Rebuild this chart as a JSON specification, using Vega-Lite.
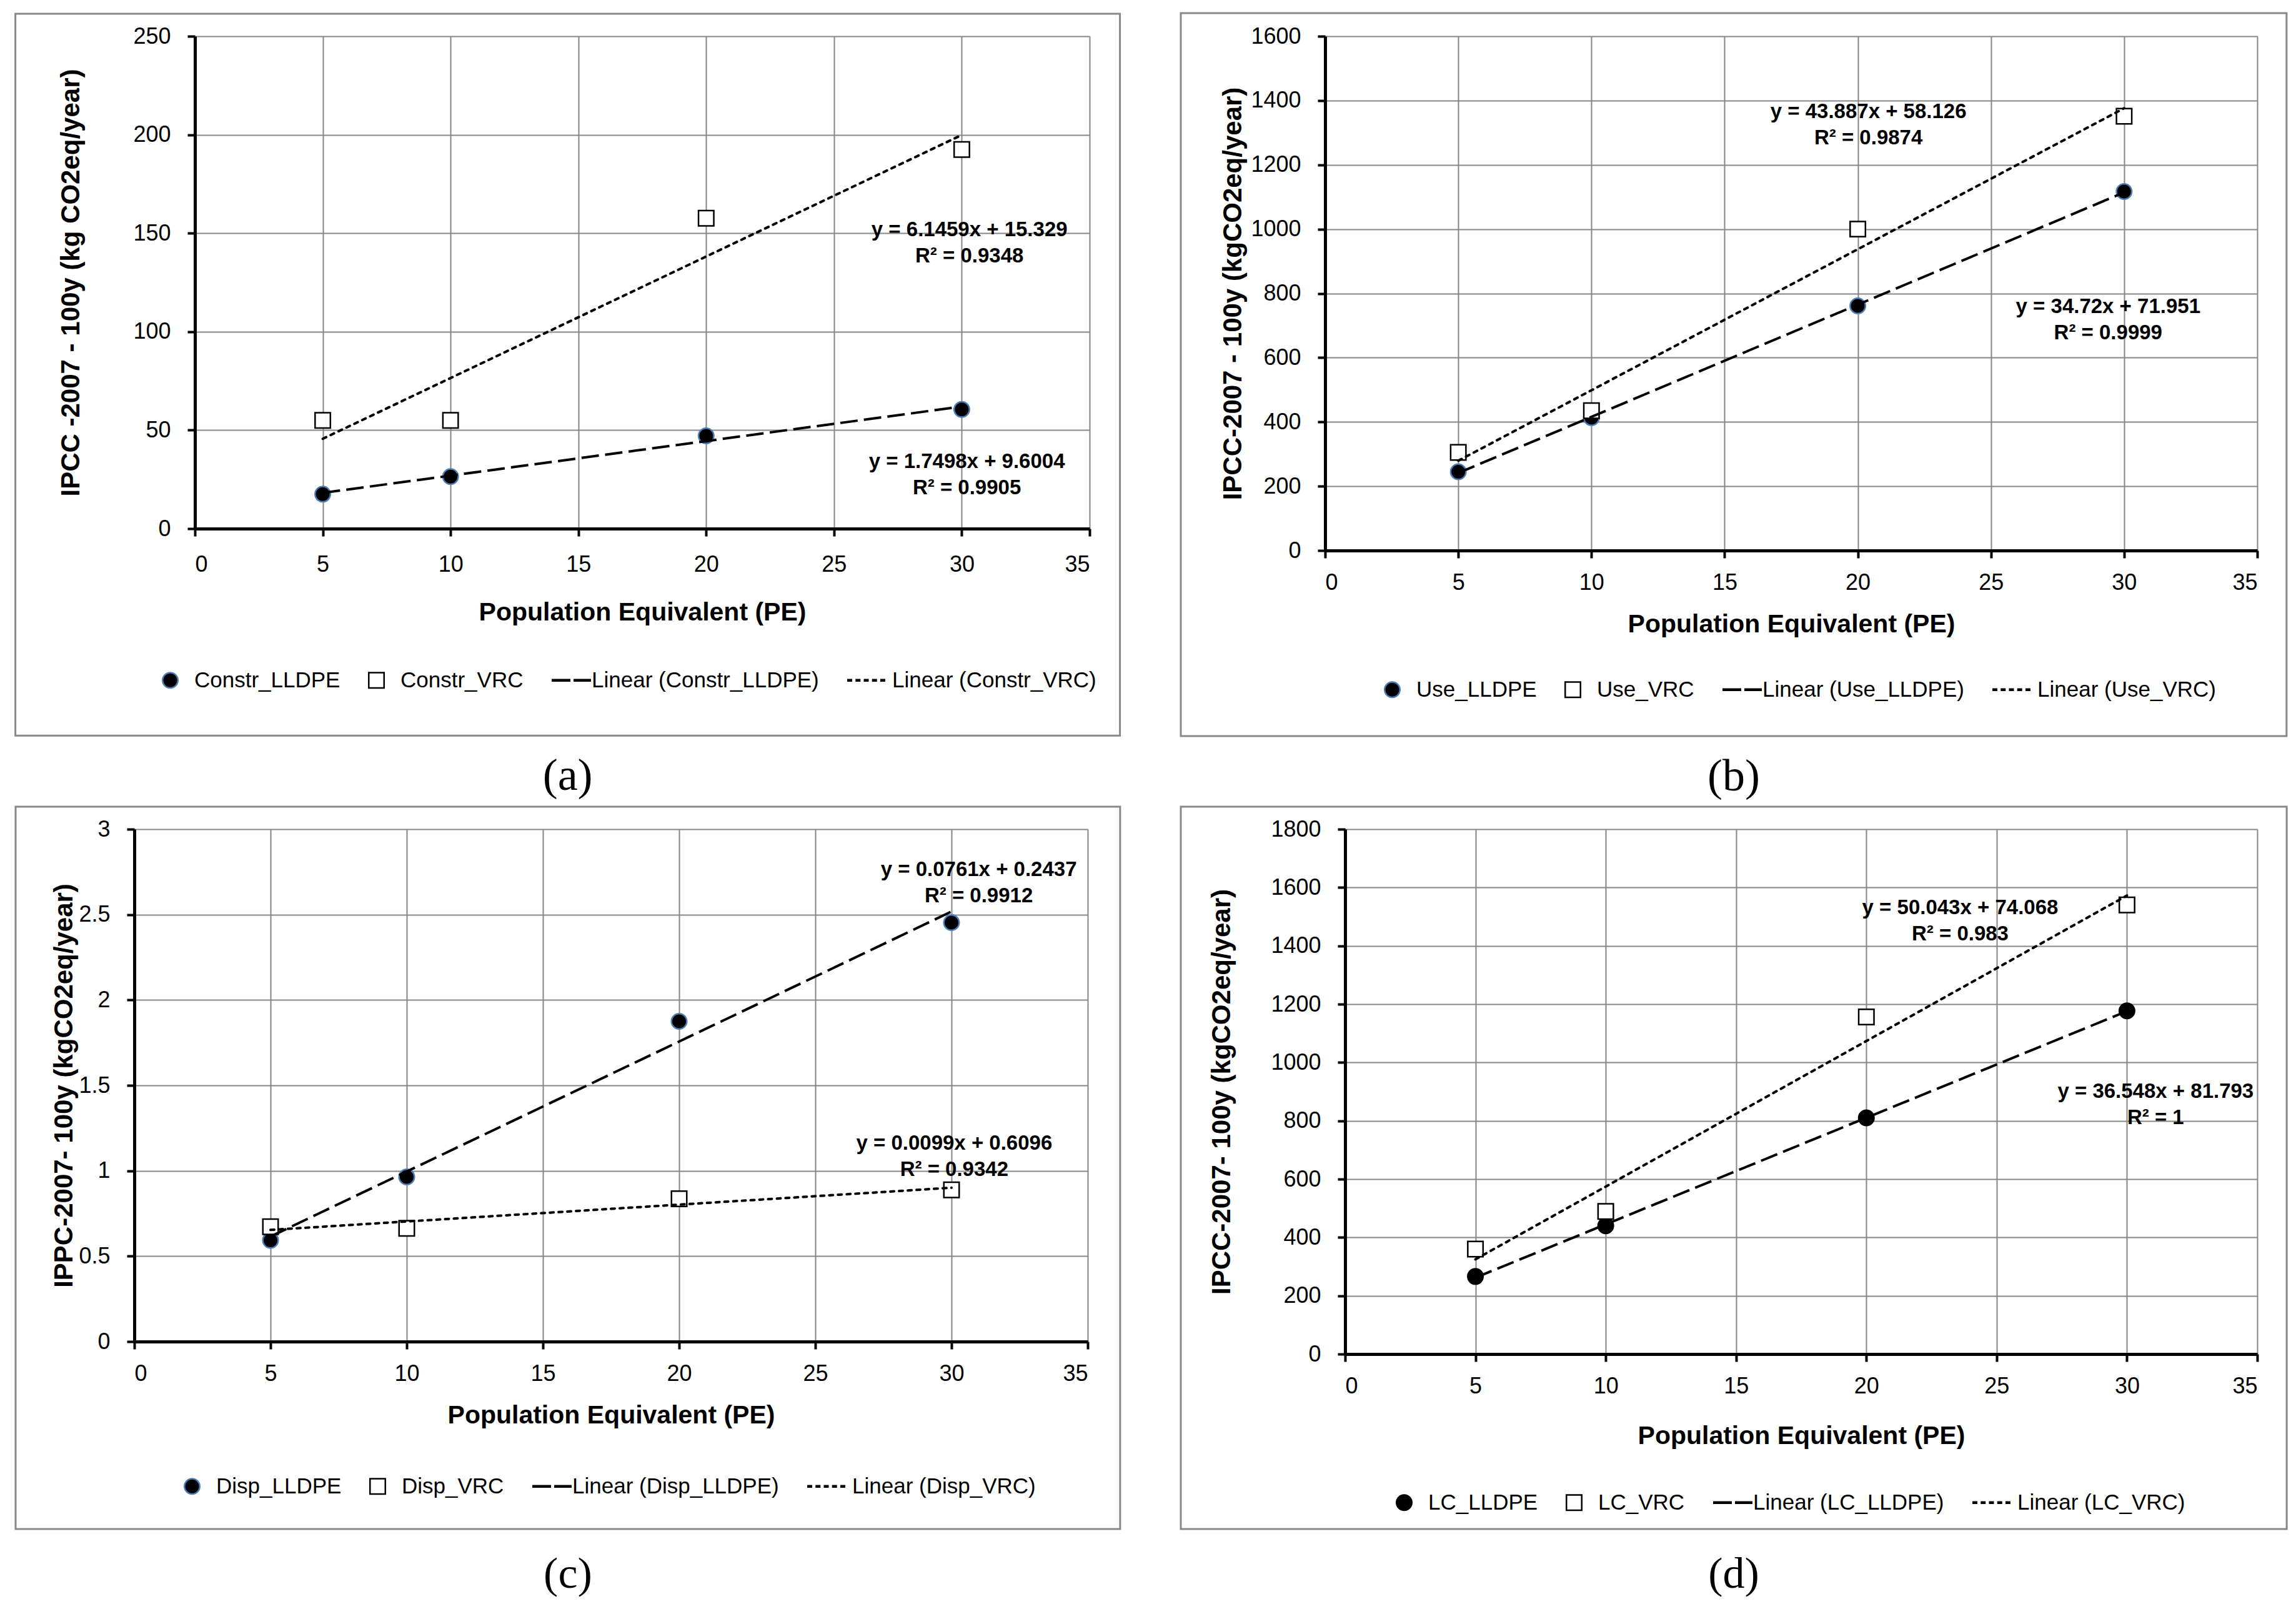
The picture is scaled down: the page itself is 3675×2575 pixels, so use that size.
{
  "$schema": "https://vega.github.io/schema/vega-lite/v6.json",
  "background": "white",
  "padding": {"left": 22, "top": 19, "right": 0, "bottom": 0},
  "spacing": 10,
  "resolve": {"scale": {"shape": "independent", "fill": "independent", "stroke": "independent"}},
  "config": {
    "view": {"stroke": null},
    "axis": {
      "grid": true,
      "gridColor": "#868686",
      "gridWidth": 2,
      "domainColor": "black",
      "domainWidth": 5,
      "tickColor": "black",
      "tickWidth": 4,
      "tickSize": 12,
      "labelFont": "Liberation Sans, Arial, sans-serif",
      "labelFontSize": 36,
      "labelColor": "black",
      "titleColor": "black",
      "format": "~f"
    },
    "axisX": {
      "titleFont": "Liberation Sans, Arial, sans-serif",
      "titleFontSize": 41,
      "titleFontWeight": "bold",
      "labelPadding": 22
    },
    "axisY": {
      "titleFont": "Liberation Sans, Arial, sans-serif",
      "titleFontSize": 42,
      "titleFontWeight": "bold",
      "titleBaseline": "middle",
      "labelPadding": 27
    },
    "legend": {
      "direction": "horizontal",
      "padding": 0,
      "symbolSize": 600,
      "symbolStrokeWidth": 2.5,
      "symbolOpacity": 1,
      "labelFont": "Liberation Sans, Arial, sans-serif",
      "labelFontSize": 35,
      "labelColor": "black",
      "labelOffset": 21,
      "columnPadding": 40,
      "labelLimit": 0
    },
    "title": {
      "orient": "bottom",
      "anchor": "middle",
      "frame": "bounds",
      "font": "Liberation Serif, Times New Roman, serif",
      "fontSize": 72,
      "fontWeight": "normal",
      "color": "black",
      "offset": 28
    }
  },
  "vconcat": [
    {
      "spacing": 93,
      "resolve": {"scale": {"shape": "independent", "fill": "independent", "stroke": "independent"}},
      "hconcat": [
        {
          "spacing": 0,
          "resolve": {"scale": {"shape": "independent", "fill": "independent", "stroke": "independent"}},
          "hconcat": [
            {"width": 1, "height": 1, "data": {"values": [{}]}, "mark": {"type": "point", "opacity": 0, "size": 0}},
            {
              "width": 1432,
              "height": 788,
              "title": "(a)",
              "data": {"values": [
                {"pe": 5, "v": 17.5, "s": "Constr_LLDPE"},
                {"pe": 10, "v": 26.4, "s": "Constr_LLDPE"},
                {"pe": 20, "v": 47.1, "s": "Constr_LLDPE"},
                {"pe": 30, "v": 60.5, "s": "Constr_LLDPE"},
                {"pe": 5, "v": 55, "s": "Constr_VRC"},
                {"pe": 10, "v": 55, "s": "Constr_VRC"},
                {"pe": 20, "v": 157.6, "s": "Constr_VRC"},
                {"pe": 30, "v": 192.5, "s": "Constr_VRC"}
              ]},
              "layer": [
                {
                  "mark": {"type": "point", "filled": true, "size": 600, "strokeWidth": 2.5, "opacity": 1},
                  "encoding": {
                    "x": {"field": "pe", "type": "quantitative", "scale": {"domain": [0, 35], "nice": false},
                      "axis": {"title": "Population Equivalent (PE)", "values": [0, 5, 10, 15, 20, 25, 30, 35], "labelPadding": 28, "titlePadding": 39}},
                    "y": {"field": "v", "type": "quantitative", "scale": {"domain": [0, 250], "nice": false},
                      "axis": {"title": "IPCC -2007 - 100y (kg CO2eq/year)", "values": [0, 50, 100, 150, 200, 250], "titleX": -199}},
                    "shape": {"field": "s", "type": "nominal",
                      "scale": {"domain": ["Constr_LLDPE", "Constr_VRC", "Linear (Constr_LLDPE)", "Linear (Constr_VRC)"],
                        "range": ["circle", "square", "M-2.08,-0.18H0.37V0.18H-2.08Z M0.78,-0.18H3.06V0.18H0.78Z", "M-2.73,-0.18H-2.08V0.18H-2.73Z M-1.65,-0.18H-1V0.18H-1.65Z M-0.57,-0.18H0.08V0.18H-0.57Z M0.51,-0.18H1.16V0.18H0.51Z M1.59,-0.18H2.24V0.18H1.59Z"]},
                      "legend": {"title": null, "orient": "none", "legendX": -57, "legendY": 1013}},
                    "fill": {"field": "s", "type": "nominal",
                      "scale": {"domain": ["Constr_LLDPE", "Constr_VRC", "Linear (Constr_LLDPE)", "Linear (Constr_VRC)"], "range": ["black", "white", "black", "black"]},
                      "legend": {"title": null, "orient": "none", "legendX": -57, "legendY": 1013}},
                    "stroke": {"field": "s", "type": "nominal",
                      "scale": {"domain": ["Constr_LLDPE", "Constr_VRC", "Linear (Constr_LLDPE)", "Linear (Constr_VRC)"], "range": ["#4a7ebb", "black", "transparent", "transparent"]},
                      "legend": {"title": null, "orient": "none", "legendX": -57, "legendY": 1013}}
                  }
                },
                {
                  "data": {"values": [{}]},
                  "mark": {"type": "rect", "fill": "transparent", "stroke": "#888888", "strokeWidth": 3},
                  "encoding": {
                    "x": {"datum": -7.024, "type": "quantitative"},
                    "x2": {"datum": 36.188},
                    "y": {"datum": 261.4, "type": "quantitative"},
                    "y2": {"datum": -105.1}
                  }
                },
                {
                  "transform": [{"filter": "datum.s === 'Constr_LLDPE'"}, {"regression": "v", "on": "pe"}],
                  "mark": {"type": "line", "color": "black", "strokeWidth": 4, "strokeDash": [28, 10]},
                  "encoding": {
                    "x": {"field": "pe", "type": "quantitative"},
                    "y": {"field": "v", "type": "quantitative"}
                  }
                },
                {
                  "transform": [{"filter": "datum.s === 'Constr_VRC'"}, {"regression": "v", "on": "pe"}],
                  "mark": {"type": "line", "color": "black", "strokeWidth": 4, "strokeDash": [6, 8], "strokeCap": "round"},
                  "encoding": {
                    "x": {"field": "pe", "type": "quantitative"},
                    "y": {"field": "v", "type": "quantitative"}
                  }
                },
                {
                  "data": {"values": [{}]},
                  "mark": {"type": "text", "font": "Liberation Sans, Arial, sans-serif", "fontSize": 33, "fontWeight": "bold", "lineHeight": 42, "align": "center", "baseline": "middle", "color": "black"},
                  "encoding": {
                    "x": {"datum": 30.3, "type": "quantitative"},
                    "y": {"datum": 151.8, "type": "quantitative"},
                    "text": {"value": ["y = 6.1459x + 15.329", "R² = 0.9348"]}
                  }
                },
                {
                  "data": {"values": [{}]},
                  "mark": {"type": "text", "font": "Liberation Sans, Arial, sans-serif", "fontSize": 33, "fontWeight": "bold", "lineHeight": 42, "align": "center", "baseline": "middle", "color": "black"},
                  "encoding": {
                    "x": {"datum": 30.2, "type": "quantitative"},
                    "y": {"datum": 34.1, "type": "quantitative"},
                    "text": {"value": ["y = 1.7498x + 9.6004", "R² = 0.9905"]}
                  }
                }
              ]
            }
          ]
        },
        {
          "width": 1492,
          "height": 823,
          "title": "(b)",
          "data": {"values": [
            {"pe": 5, "v": 245, "s": "Use_LLDPE"},
            {"pe": 10, "v": 413, "s": "Use_LLDPE"},
            {"pe": 20, "v": 761, "s": "Use_LLDPE"},
            {"pe": 30, "v": 1117, "s": "Use_LLDPE"},
            {"pe": 5, "v": 305, "s": "Use_VRC"},
            {"pe": 10, "v": 435, "s": "Use_VRC"},
            {"pe": 20, "v": 1000, "s": "Use_VRC"},
            {"pe": 30, "v": 1351, "s": "Use_VRC"}
          ]},
          "layer": [
            {
              "mark": {"type": "point", "filled": true, "size": 600, "strokeWidth": 2.5, "opacity": 1},
              "encoding": {
                "x": {"field": "pe", "type": "quantitative", "scale": {"domain": [0, 35], "nice": false},
                  "axis": {"title": "Population Equivalent (PE)", "values": [0, 5, 10, 15, 20, 25, 30, 35], "titlePadding": 29}},
                "y": {"field": "v", "type": "quantitative", "scale": {"domain": [0, 1600], "nice": false},
                  "axis": {"title": "IPCC-2007 - 100y (kgCO2eq/year)", "values": [0, 200, 400, 600, 800, 1000, 1200, 1400, 1600], "titleX": -148}},
                "shape": {"field": "s", "type": "nominal",
                  "scale": {"domain": ["Use_LLDPE", "Use_VRC", "Linear (Use_LLDPE)", "Linear (Use_VRC)"],
                    "range": ["circle", "square", "M-2.08,-0.18H0.37V0.18H-2.08Z M0.78,-0.18H3.06V0.18H0.78Z", "M-2.73,-0.18H-2.08V0.18H-2.73Z M-1.65,-0.18H-1V0.18H-1.65Z M-0.57,-0.18H0.08V0.18H-0.57Z M0.51,-0.18H1.16V0.18H0.51Z M1.59,-0.18H2.24V0.18H1.59Z"]},
                  "legend": {"title": null, "orient": "none", "legendX": 90, "legendY": 1028}},
                "fill": {"field": "s", "type": "nominal",
                  "scale": {"domain": ["Use_LLDPE", "Use_VRC", "Linear (Use_LLDPE)", "Linear (Use_VRC)"], "range": ["black", "white", "black", "black"]},
                  "legend": {"title": null, "orient": "none", "legendX": 90, "legendY": 1028}},
                "stroke": {"field": "s", "type": "nominal",
                  "scale": {"domain": ["Use_LLDPE", "Use_VRC", "Linear (Use_LLDPE)", "Linear (Use_VRC)"], "range": ["#4a7ebb", "black", "transparent", "transparent"]},
                  "legend": {"title": null, "orient": "none", "legendX": 90, "legendY": 1028}}
              }
            },
            {
              "data": {"values": [{}]},
              "mark": {"type": "rect", "fill": "transparent", "stroke": "#888888", "strokeWidth": 3},
              "encoding": {
                "x": {"datum": -5.419, "type": "quantitative"},
                "x2": {"datum": 36.10},
                "y": {"datum": 1671.9, "type": "quantitative"},
                "y2": {"datum": -577.4}
              }
            },
            {
              "transform": [{"filter": "datum.s === 'Use_LLDPE'"}, {"regression": "v", "on": "pe"}],
              "mark": {"type": "line", "color": "black", "strokeWidth": 4, "strokeDash": [28, 10]},
              "encoding": {
                "x": {"field": "pe", "type": "quantitative"},
                "y": {"field": "v", "type": "quantitative"}
              }
            },
            {
              "transform": [{"filter": "datum.s === 'Use_VRC'"}, {"regression": "v", "on": "pe"}],
              "mark": {"type": "line", "color": "black", "strokeWidth": 4, "strokeDash": [6, 8], "strokeCap": "round"},
              "encoding": {
                "x": {"field": "pe", "type": "quantitative"},
                "y": {"field": "v", "type": "quantitative"}
              }
            },
            {
              "data": {"values": [{}]},
              "mark": {"type": "text", "font": "Liberation Sans, Arial, sans-serif", "fontSize": 33, "fontWeight": "bold", "lineHeight": 42, "align": "center", "baseline": "middle", "color": "black"},
              "encoding": {
                "x": {"datum": 20.4, "type": "quantitative"},
                "y": {"datum": 1364, "type": "quantitative"},
                "text": {"value": ["y = 43.887x + 58.126", "R² = 0.9874"]}
              }
            },
            {
              "data": {"values": [{}]},
              "mark": {"type": "text", "font": "Liberation Sans, Arial, sans-serif", "fontSize": 33, "fontWeight": "bold", "lineHeight": 42, "align": "center", "baseline": "middle", "color": "black"},
              "encoding": {
                "x": {"datum": 29.4, "type": "quantitative"},
                "y": {"datum": 759, "type": "quantitative"},
                "text": {"value": ["y = 34.72x + 71.951", "R² = 0.9999"]}
              }
            }
          ]
        }
      ]
    },
    {
      "spacing": 93,
      "resolve": {"scale": {"shape": "independent", "fill": "independent", "stroke": "independent"}},
      "hconcat": [
        {
          "spacing": 0,
          "resolve": {"scale": {"shape": "independent", "fill": "independent", "stroke": "independent"}},
          "hconcat": [
            {"width": 1, "height": 1, "data": {"values": [{}]}, "mark": {"type": "point", "opacity": 0, "size": 0}},
            {
              "width": 1526,
              "height": 820,
              "title": {"text": "(c)", "offset": 37, "fontSize": 70},
              "data": {"values": [
                {"pe": 5, "v": 0.593, "s": "Disp_LLDPE"},
                {"pe": 10, "v": 0.964, "s": "Disp_LLDPE"},
                {"pe": 20, "v": 1.875, "s": "Disp_LLDPE"},
                {"pe": 30, "v": 2.453, "s": "Disp_LLDPE"},
                {"pe": 5, "v": 0.672, "s": "Disp_VRC"},
                {"pe": 10, "v": 0.663, "s": "Disp_VRC"},
                {"pe": 20, "v": 0.836, "s": "Disp_VRC"},
                {"pe": 30, "v": 0.888, "s": "Disp_VRC"}
              ]},
              "layer": [
                {
                  "mark": {"type": "point", "filled": true, "size": 600, "strokeWidth": 2.5, "opacity": 1},
                  "encoding": {
                    "x": {"field": "pe", "type": "quantitative", "scale": {"domain": [0, 35], "nice": false},
                      "axis": {"title": "Population Equivalent (PE)", "values": [0, 5, 10, 15, 20, 25, 30, 35], "titlePadding": 29}},
                    "y": {"field": "v", "type": "quantitative", "scale": {"domain": [0, 3], "nice": false},
                      "axis": {"title": "IPPC-2007- 100y (kgCO2eq/year)", "values": [0, 0.5, 1, 1.5, 2, 2.5, 3], "titleX": -113}},
                    "shape": {"field": "s", "type": "nominal",
                      "scale": {"domain": ["Disp_LLDPE", "Disp_VRC", "Linear (Disp_LLDPE)", "Linear (Disp_VRC)"],
                        "range": ["circle", "square", "M-2.08,-0.18H0.37V0.18H-2.08Z M0.78,-0.18H3.06V0.18H0.78Z", "M-2.73,-0.18H-2.08V0.18H-2.73Z M-1.65,-0.18H-1V0.18H-1.65Z M-0.57,-0.18H0.08V0.18H-0.57Z M0.51,-0.18H1.16V0.18H0.51Z M1.59,-0.18H2.24V0.18H1.59Z"]},
                      "legend": {"title": null, "orient": "none", "legendX": 75, "legendY": 1034}},
                    "fill": {"field": "s", "type": "nominal",
                      "scale": {"domain": ["Disp_LLDPE", "Disp_VRC", "Linear (Disp_LLDPE)", "Linear (Disp_VRC)"], "range": ["black", "white", "black", "black"]},
                      "legend": {"title": null, "orient": "none", "legendX": 75, "legendY": 1034}},
                    "stroke": {"field": "s", "type": "nominal",
                      "scale": {"domain": ["Disp_LLDPE", "Disp_VRC", "Linear (Disp_LLDPE)", "Linear (Disp_VRC)"], "range": ["#4a7ebb", "black", "transparent", "transparent"]},
                      "legend": {"title": null, "orient": "none", "legendX": 75, "legendY": 1034}}
                  }
                },
                {
                  "data": {"values": [{}]},
                  "mark": {"type": "rect", "fill": "transparent", "stroke": "#888888", "strokeWidth": 3},
                  "encoding": {
                    "x": {"datum": -4.358, "type": "quantitative"},
                    "x2": {"datum": 36.19},
                    "y": {"datum": 3.1317, "type": "quantitative"},
                    "y2": {"datum": -1.0976}
                  }
                },
                {
                  "transform": [{"filter": "datum.s === 'Disp_LLDPE'"}, {"regression": "v", "on": "pe"}],
                  "mark": {"type": "line", "color": "black", "strokeWidth": 4, "strokeDash": [28, 10]},
                  "encoding": {
                    "x": {"field": "pe", "type": "quantitative"},
                    "y": {"field": "v", "type": "quantitative"}
                  }
                },
                {
                  "transform": [{"filter": "datum.s === 'Disp_VRC'"}, {"regression": "v", "on": "pe"}],
                  "mark": {"type": "line", "color": "black", "strokeWidth": 4, "strokeDash": [6, 8], "strokeCap": "round"},
                  "encoding": {
                    "x": {"field": "pe", "type": "quantitative"},
                    "y": {"field": "v", "type": "quantitative"}
                  }
                },
                {
                  "data": {"values": [{}]},
                  "mark": {"type": "text", "font": "Liberation Sans, Arial, sans-serif", "fontSize": 33, "fontWeight": "bold", "lineHeight": 42, "align": "center", "baseline": "middle", "color": "black"},
                  "encoding": {
                    "x": {"datum": 31.0, "type": "quantitative"},
                    "y": {"datum": 2.764, "type": "quantitative"},
                    "text": {"value": ["y = 0.0761x + 0.2437", "R² = 0.9912"]}
                  }
                },
                {
                  "data": {"values": [{}]},
                  "mark": {"type": "text", "font": "Liberation Sans, Arial, sans-serif", "fontSize": 33, "fontWeight": "bold", "lineHeight": 42, "align": "center", "baseline": "middle", "color": "black"},
                  "encoding": {
                    "x": {"datum": 30.1, "type": "quantitative"},
                    "y": {"datum": 1.161, "type": "quantitative"},
                    "text": {"value": ["y = 0.0099x + 0.6096", "R² = 0.9342"]}
                  }
                }
              ]
            }
          ]
        },
        {
          "width": 1460,
          "height": 840,
          "title": {"text": "(d)", "offset": 37, "fontSize": 70},
          "data": {"values": [
            {"pe": 5, "v": 266, "s": "LC_LLDPE"},
            {"pe": 10, "v": 440, "s": "LC_LLDPE"},
            {"pe": 20, "v": 810, "s": "LC_LLDPE"},
            {"pe": 30, "v": 1177, "s": "LC_LLDPE"},
            {"pe": 5, "v": 360, "s": "LC_VRC"},
            {"pe": 10, "v": 489, "s": "LC_VRC"},
            {"pe": 20, "v": 1156, "s": "LC_VRC"},
            {"pe": 30, "v": 1540, "s": "LC_VRC"}
          ]},
          "layer": [
            {
              "mark": {"type": "point", "filled": true, "size": 600, "strokeWidth": 2.5, "opacity": 1},
              "encoding": {
                "x": {"field": "pe", "type": "quantitative", "scale": {"domain": [0, 35], "nice": false},
                  "axis": {"title": "Population Equivalent (PE)", "values": [0, 5, 10, 15, 20, 25, 30, 35], "titlePadding": 42}},
                "y": {"field": "v", "type": "quantitative", "scale": {"domain": [0, 1800], "nice": false},
                  "axis": {"title": "IPCC-2007- 100y (kgCO2eq/year)", "values": [0, 200, 400, 600, 800, 1000, 1200, 1400, 1600, 1800], "titleX": -198}},
                "shape": {"field": "s", "type": "nominal",
                  "scale": {"domain": ["LC_LLDPE", "LC_VRC", "Linear (LC_LLDPE)", "Linear (LC_VRC)"],
                    "range": ["circle", "square", "M-2.08,-0.18H0.37V0.18H-2.08Z M0.78,-0.18H3.06V0.18H0.78Z", "M-2.73,-0.18H-2.08V0.18H-2.73Z M-1.65,-0.18H-1V0.18H-1.65Z M-0.57,-0.18H0.08V0.18H-0.57Z M0.51,-0.18H1.16V0.18H0.51Z M1.59,-0.18H2.24V0.18H1.59Z"]},
                  "legend": {"title": null, "orient": "none", "legendX": 77, "legendY": 1060}},
                "fill": {"field": "s", "type": "nominal",
                  "scale": {"domain": ["LC_LLDPE", "LC_VRC", "Linear (LC_LLDPE)", "Linear (LC_VRC)"], "range": ["black", "white", "black", "black"]},
                  "legend": {"title": null, "orient": "none", "legendX": 77, "legendY": 1060}},
                "stroke": {"field": "s", "type": "nominal",
                  "scale": {"domain": ["LC_LLDPE", "LC_VRC", "Linear (LC_LLDPE)", "Linear (LC_VRC)"], "range": ["black", "black", "transparent", "transparent"]},
                  "legend": {"title": null, "orient": "none", "legendX": 77, "legendY": 1060}}
              }
            },
            {
              "data": {"values": [{}]},
              "mark": {"type": "rect", "fill": "transparent", "stroke": "#888888", "strokeWidth": 3},
              "encoding": {
                "x": {"datum": -6.305, "type": "quantitative"},
                "x2": {"datum": 36.13},
                "y": {"datum": 1877.1, "type": "quantitative"},
                "y2": {"datum": -600}
              }
            },
            {
              "transform": [{"filter": "datum.s === 'LC_LLDPE'"}, {"regression": "v", "on": "pe"}],
              "mark": {"type": "line", "color": "black", "strokeWidth": 4, "strokeDash": [28, 10]},
              "encoding": {
                "x": {"field": "pe", "type": "quantitative"},
                "y": {"field": "v", "type": "quantitative"}
              }
            },
            {
              "transform": [{"filter": "datum.s === 'LC_VRC'"}, {"regression": "v", "on": "pe"}],
              "mark": {"type": "line", "color": "black", "strokeWidth": 4, "strokeDash": [6, 8], "strokeCap": "round"},
              "encoding": {
                "x": {"field": "pe", "type": "quantitative"},
                "y": {"field": "v", "type": "quantitative"}
              }
            },
            {
              "data": {"values": [{}]},
              "mark": {"type": "text", "font": "Liberation Sans, Arial, sans-serif", "fontSize": 33, "fontWeight": "bold", "lineHeight": 42, "align": "center", "baseline": "middle", "color": "black"},
              "encoding": {
                "x": {"datum": 23.6, "type": "quantitative"},
                "y": {"datum": 1530, "type": "quantitative"},
                "text": {"value": ["y = 50.043x + 74.068", "R² = 0.983"]}
              }
            },
            {
              "data": {"values": [{}]},
              "mark": {"type": "text", "font": "Liberation Sans, Arial, sans-serif", "fontSize": 33, "fontWeight": "bold", "lineHeight": 42, "align": "center", "baseline": "middle", "color": "black"},
              "encoding": {
                "x": {"datum": 31.1, "type": "quantitative"},
                "y": {"datum": 900, "type": "quantitative"},
                "text": {"value": ["y = 36.548x + 81.793", "R² = 1"]}
              }
            }
          ]
        }
      ]
    }
  ]
}
